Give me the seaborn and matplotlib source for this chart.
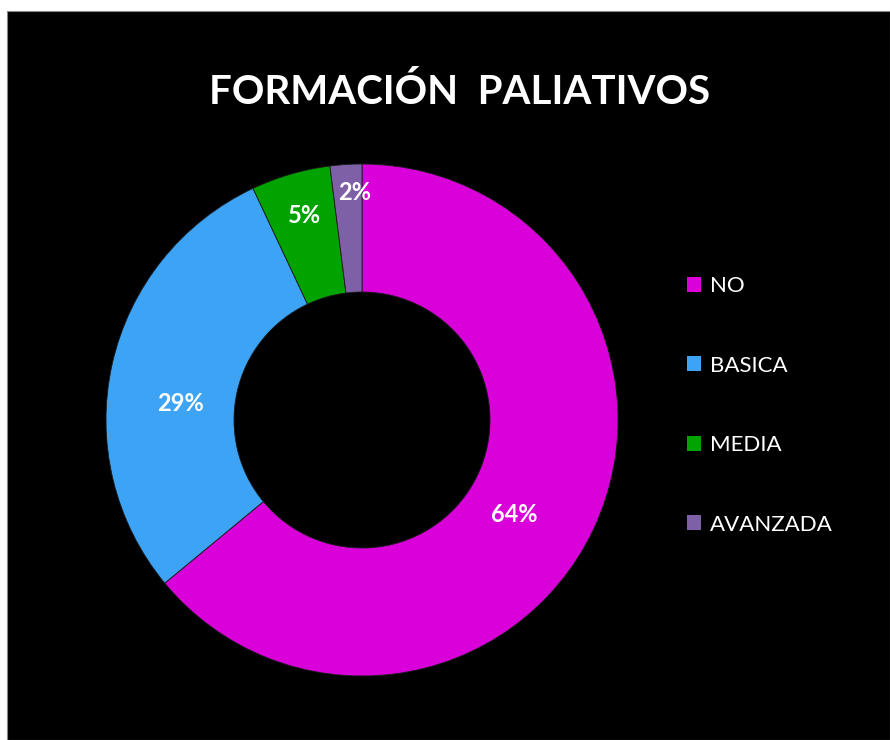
import numpy as np
import matplotlib
matplotlib.use("Agg")
import matplotlib.pyplot as plt
import seaborn as sns
from matplotlib.patches import Rectangle, Patch

categories = ["NO", "BASICA", "MEDIA", "AVANZADA"]
values = [64, 29, 5, 2]
colors = ["#DA00DA", "#3DA3F5", "#00A300", "#7E60A6"]
title = "FORMACIÓN  PALIATIVOS"

sns.set_theme(style="dark")
plt.rcParams['font.family'] = ['Lato', 'DejaVu Sans']

W, H = 890, 740
fig = plt.figure(figsize=(W / 100, H / 100), dpi=100, facecolor="white")

# black chart area
fig.patches.append(Rectangle((7 / W, 0), 1 - 7 / W, 1 - 11 / H,
                             transform=fig.transFigure, facecolor="black",
                             edgecolor="#888888", linewidth=0.8, zorder=-5))

cx, cy, R = 362, 740 - 420, 256
ax = fig.add_axes([(cx - R) / W, (cy - R) / H, 2 * R / W, 2 * R / H])
ax.set_zorder(2)
ax.set_facecolor("none")
ax.patch.set_alpha(0)
pal = sns.color_palette(colors)
wedges, texts = ax.pie(values, colors=pal, startangle=90, counterclock=False,
                       radius=1.0, wedgeprops=dict(width=0.5, edgecolor="#1a1a1a", linewidth=0.6))
ax.set_xlim(-1, 1)
ax.set_ylim(-1, 1)
ax.set_aspect("equal")
ax.axis("off")

# label placement (style): radial distance and angular nudge per label
label_dist = [0.70, 0.71, 0.83, 0.89]
label_nudge = [-6.5, 7.5, -0.5, -1.8]
for w, v, d, n in zip(wedges, values, label_dist, label_nudge):
    ang = np.deg2rad((w.theta1 + w.theta2) / 2 + n)
    ax.text(d * np.cos(ang), d * np.sin(ang), f"{v}%", ha="center", va="center",
            color="white", fontsize=17, fontweight="bold")

fig.text(460 / W, 1 - 92 / H, title, ha="center", va="center", color="white",
         fontsize=29, fontweight="bold", zorder=3)

handles = [Patch(facecolor=c, edgecolor="none") for c in colors]
leg = fig.legend(handles, categories, loc="upper left",
                 bbox_to_anchor=(687 / W, 1 - 276 / H), frameon=False,
                 fontsize=16, labelcolor="white", handlelength=0.65, handleheight=0.65,
                 handletextpad=0.4, labelspacing=2.68, borderaxespad=0, borderpad=0)
leg.set_zorder(3)

fig.savefig("out.png", dpi=100, facecolor=fig.get_facecolor())
